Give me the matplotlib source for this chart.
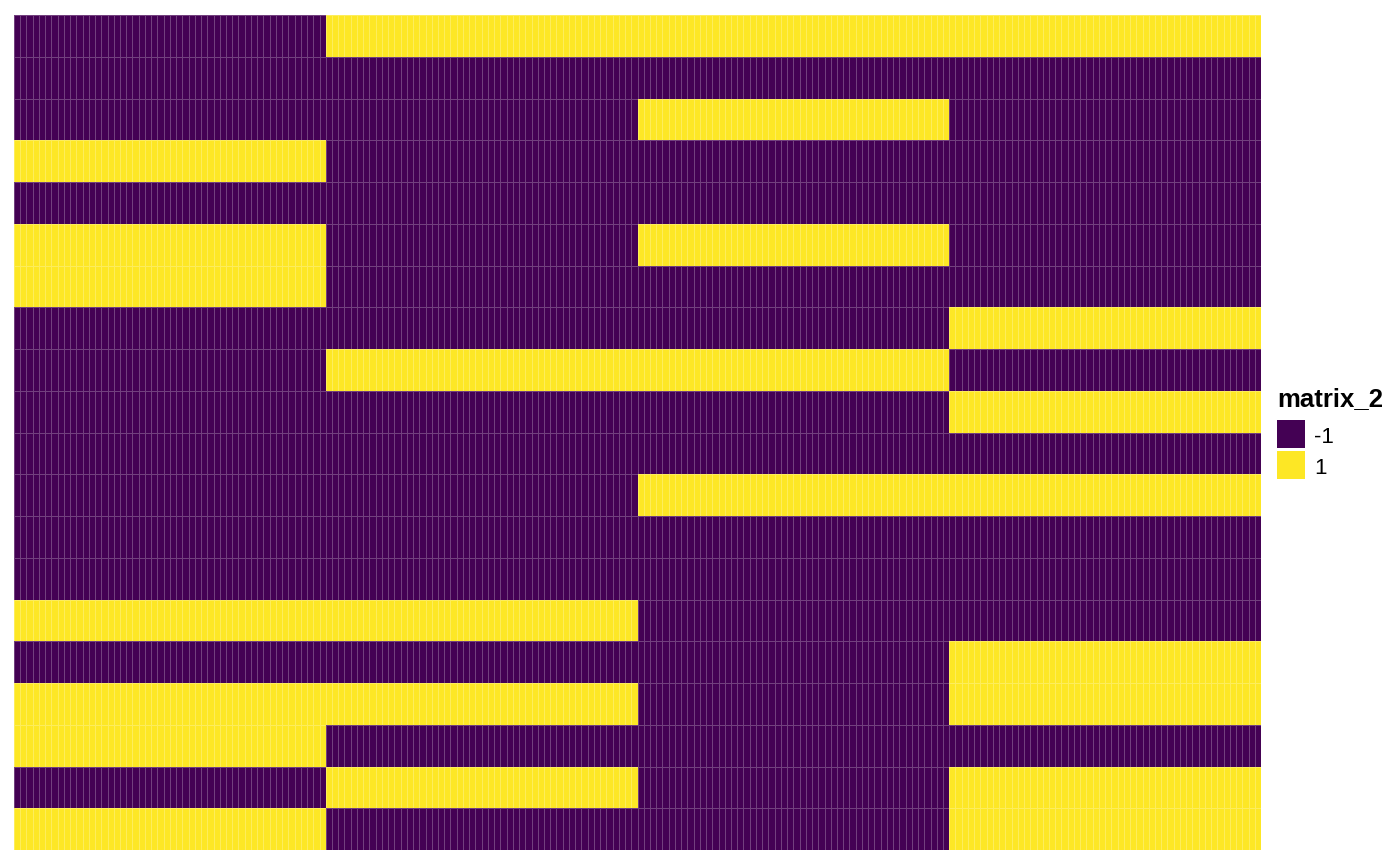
import matplotlib.pyplot as plt
import numpy as np
from matplotlib.colors import ListedColormap
from matplotlib.patches import Rectangle

# one row per line of the heatmap (top to bottom), one value per column block
rows = [
    [-1, 1, 1, 1],
    [-1, -1, -1, -1],
    [-1, -1, 1, -1],
    [1, -1, -1, -1],
    [-1, -1, -1, -1],
    [1, -1, 1, -1],
    [1, -1, -1, -1],
    [-1, -1, -1, 1],
    [-1, 1, 1, -1],
    [-1, -1, -1, 1],
    [-1, -1, -1, -1],
    [-1, -1, 1, 1],
    [-1, -1, -1, -1],
    [-1, -1, -1, -1],
    [1, 1, -1, -1],
    [-1, -1, -1, 1],
    [1, 1, -1, 1],
    [1, -1, -1, -1],
    [-1, 1, -1, 1],
    [1, -1, -1, 1],
]
cols_per_block = 50
levels = ['-1', '1']
colors = ['#440154', '#FDE725']

plt.rcParams['font.family'] = ['Liberation Sans', 'DejaVu Sans']

mat = np.repeat(np.array(rows), cols_per_block, axis=1)

W, H = 1400, 865
fig = plt.figure(figsize=(W / 100, H / 100), dpi=100)
ax = fig.add_axes([14 / W, 15 / H, (1261 - 14) / W, (850 - 15) / H])
ax.pcolormesh(mat, cmap=ListedColormap(colors), vmin=-1, vmax=1,
              edgecolors=(1, 1, 1, 0.25), linewidth=0.4)
ax.set_xlim(0, mat.shape[1])
ax.set_ylim(mat.shape[0], 0)
ax.axis('off')

# legend, laid out by hand in pixel units
fig.text(1277 / W, 1 - 406 / H, 'matrix_2', fontsize=18.5, fontweight='bold',
         ha='left', va='baseline')
key, gap, top = 28, 3, 420
for i, (lab, c) in enumerate(zip(levels, colors)):
    y0 = top + i * (key + gap)
    fig.add_artist(Rectangle((1277 / W, 1 - (y0 + key) / H), key / W, key / H,
                             transform=fig.transFigure, facecolor=c, edgecolor='none'))
    fig.text(1314 / W, 1 - (y0 + key / 2 + 1) / H, lab, fontsize=16,
             ha='left', va='center_baseline')

fig.savefig('out.png', dpi=100)
